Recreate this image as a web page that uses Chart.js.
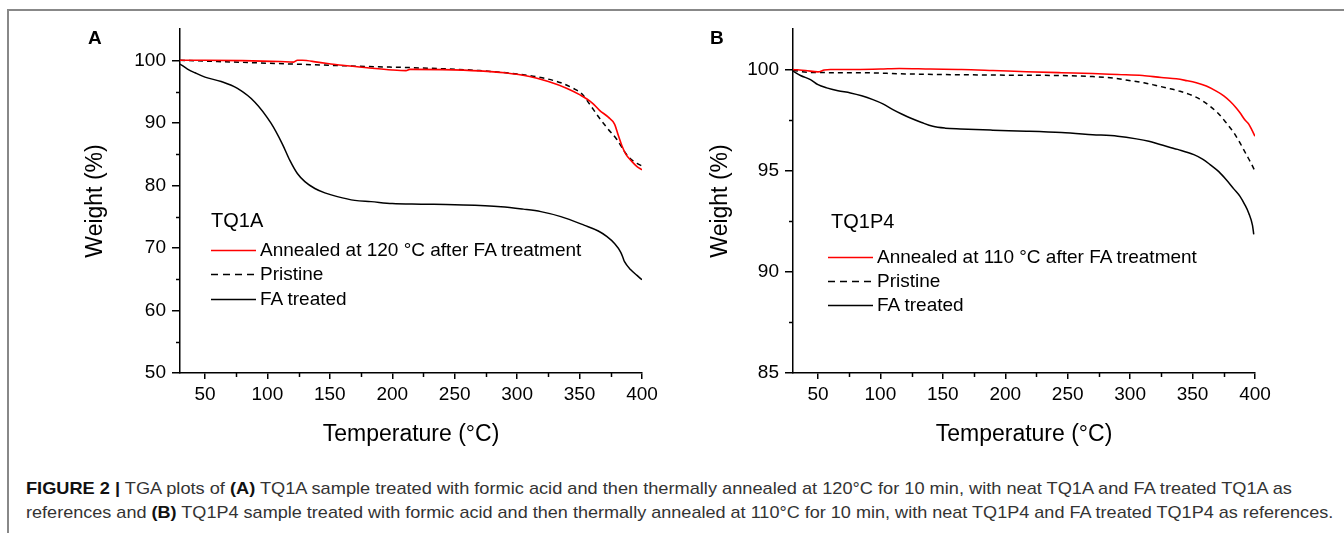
<!DOCTYPE html>
<html>
<head>
<meta charset="utf-8">
<script src="https://cdn.jsdelivr.net/npm/chart.js@4.4.1/dist/chart.umd.min.js"></script>
<style>
  html, body { margin: 0; padding: 0; background: #fff; }
  body { width: 1344px; height: 533px; position: relative; overflow: hidden;
         font-family: "Liberation Sans", Arial, sans-serif; color: #000; }
  .frame { position: absolute; left: 7px; top: 9px; width: 1400px; height: 600px;
           border-top: 2px solid #888; border-left: 2px solid #888; }
  canvas { position: absolute; top: 0; }
  #chartA { left: 0; }
  #chartB { left: 613px; }
  .letter { position: absolute; font-weight: bold; font-size: 19px; line-height: 22px; }
  .tag { position: absolute; font-size: 20px; line-height: 24px; white-space: nowrap; }
  .leg { position: absolute; height: 22px; line-height: 22px; font-size: 19px; white-space: nowrap; }
  .leg svg { position: absolute; left: 0; top: 10px; }
  .leg span { position: absolute; left: 49px; top: 0; }
  .cap { position: absolute; left: 26px; font-size: 17px; line-height: 20px; white-space: nowrap;
         color: #333; transform-origin: 0 50%; }
  .cap b { color: #111; }
</style>
</head>
<body>
<div class="frame"></div>
<canvas id="chartA" width="672" height="460"></canvas>
<canvas id="chartB" width="672" height="460"></canvas>

<div class="letter" style="left:88px; top:27px;">A</div>
<div class="letter" style="left:710px; top:27px;">B</div>

<div class="tag" style="left:211px; top:208px;">TQ1A</div>
<div class="leg" style="left:211px; top:239px;"><svg width="45" height="4"><line x1="0" y1="1.5" x2="45" y2="1.5" stroke="#f00" stroke-width="1.6"/></svg><span>Annealed at 120 °C after FA treatment</span></div>
<div class="leg" style="left:211px; top:263px;"><svg width="45" height="4"><line x1="0" y1="1.5" x2="45" y2="1.5" stroke="#000" stroke-width="1.5" stroke-dasharray="7 5"/></svg><span>Pristine</span></div>
<div class="leg" style="left:211px; top:288px;"><svg width="45" height="4"><line x1="0" y1="1.5" x2="45" y2="1.5" stroke="#000" stroke-width="1.6"/></svg><span>FA treated</span></div>

<div class="tag" style="left:831px; top:209px;">TQ1P4</div>
<div class="leg" style="left:828px; top:246px;"><svg width="45" height="4"><line x1="0" y1="1.5" x2="45" y2="1.5" stroke="#f00" stroke-width="1.6"/></svg><span>Annealed at 110 °C after FA treatment</span></div>
<div class="leg" style="left:828px; top:270px;"><svg width="45" height="4"><line x1="0" y1="1.5" x2="45" y2="1.5" stroke="#000" stroke-width="1.5" stroke-dasharray="7 5"/></svg><span>Pristine</span></div>
<div class="leg" style="left:828px; top:294px;"><svg width="45" height="4"><line x1="0" y1="1.5" x2="45" y2="1.5" stroke="#000" stroke-width="1.6"/></svg><span>FA treated</span></div>

<div class="cap" id="cap1" data-right="1292" style="top:479px;"><b>FIGURE 2 |</b> TGA plots of <b>(A)</b> TQ1A sample treated with formic acid and then thermally annealed at 120°C for 10 min, with neat TQ1A and FA treated TQ1A as</div>
<div class="cap" id="cap2" data-right="1333" style="top:503px;">references and <b>(B)</b> TQ1P4 sample treated with formic acid and then thermally annealed at 110°C for 10 min, with neat TQ1P4 and FA treated TQ1P4 as references.</div>

<script>
// ---- panel A: TQ1A ----
var tempA_annealed = [30, 50, 80, 110, 121, 124, 128, 140, 160, 180, 200, 211, 214, 240, 270, 290, 310, 325, 340, 350, 360, 366, 373, 378, 381, 384, 387, 392, 396, 400];
var weightA_annealed = [100.0, 100.0, 99.95, 99.8, 99.7, 100.0, 100.0, 99.7, 99.2, 98.8, 98.45, 98.35, 98.55, 98.5, 98.3, 98.0, 97.4, 96.6, 95.5, 94.5, 93.2, 92.0, 90.9, 89.8, 88.0, 86.3, 85.0, 83.8, 83.0, 82.5];
var tempA_pristine = [30, 60, 90, 120, 150, 180, 210, 240, 270, 300, 320, 335, 345, 352, 358, 365, 372, 380, 386, 391, 396, 400];
var weightA_pristine = [100.0, 99.8, 99.6, 99.4, 99.2, 99.0, 98.85, 98.65, 98.35, 97.8, 97.2, 96.4, 95.5, 94.6, 93.0, 91.0, 89.2, 87.3, 85.4, 84.2, 83.5, 83.1];
var tempA_fa = [30, 36, 42, 50, 63, 76, 90, 103, 112, 118, 124, 130, 138, 146, 156, 170, 183, 200, 223, 250, 287, 305, 319, 335, 354, 365, 372, 378, 383, 385, 386, 391, 396, 400];
var weightA_fa = [99.4, 98.6, 98.0, 97.3, 96.6, 95.5, 93.3, 89.9, 86.6, 84.0, 81.9, 80.6, 79.5, 78.8, 78.2, 77.6, 77.4, 77.1, 77.0, 76.9, 76.6, 76.2, 75.8, 75.0, 73.6, 72.7, 71.8, 70.7, 69.3, 68.3, 67.8, 66.5, 65.6, 64.9];

// ---- panel B: TQ1P4 ----
var tempB_annealed = [30, 40, 50, 55, 60, 80, 100, 115, 140, 165, 190, 217, 245, 270, 290, 310, 325, 337, 345, 353, 361, 369, 375, 380, 385, 388, 392, 395, 398, 400];
var weightB_annealed = [100.0, 99.95, 99.88, 99.97, 100.0, 100.0, 100.02, 100.05, 100.02, 100.0, 99.95, 99.89, 99.84, 99.8, 99.75, 99.7, 99.6, 99.54, 99.45, 99.34, 99.18, 98.93, 98.7, 98.43, 98.1, 97.86, 97.5, 97.3, 96.95, 96.7];
var tempB_pristine = [30, 45, 84, 120, 150, 200, 244, 270, 284, 298, 311, 320, 329, 340, 351, 358, 364, 371, 377, 383, 388, 393, 397, 400];
var weightB_pristine = [99.95, 99.85, 99.84, 99.78, 99.75, 99.72, 99.7, 99.65, 99.59, 99.47, 99.34, 99.22, 99.09, 98.92, 98.68, 98.45, 98.18, 97.8, 97.36, 96.88, 96.37, 95.8, 95.35, 94.97];
var tempB_fa = [30, 36, 44, 50, 57, 66, 76, 85, 94, 102, 110, 117, 124, 133, 142, 152, 164, 190, 217, 245, 270, 290, 305, 315, 324, 338, 351, 358, 364, 371, 377, 383, 388, 392, 395, 398, 399];
var weightB_fa = [99.92, 99.7, 99.5, 99.25, 99.09, 98.95, 98.84, 98.7, 98.51, 98.3, 98.02, 97.8, 97.6, 97.38, 97.19, 97.1, 97.06, 97.0, 96.95, 96.88, 96.78, 96.7, 96.57, 96.45, 96.29, 96.05, 95.79, 95.57, 95.3, 94.95, 94.55, 94.1, 93.73, 93.3, 92.9, 92.3, 91.85];

// ticks
var xTicks = [50, 100, 150, 200, 250, 300, 350, 400];
var xMinor = [75, 125, 175, 225, 275, 325, 375];
var yTicksA = [50, 60, 70, 80, 90, 100];
var yMinorA = [55, 65, 75, 85, 95];
var yTicksB = [85, 90, 95, 100];
var yMinorB = [87.5, 92.5, 97.5];

Chart.defaults.font.family = '"Liberation Sans", Arial, sans-serif';
Chart.defaults.color = '#000';

function pts(t, w) {
    var out = [];
    for (var i = 0; i < t.length; i++) out.push({x: t[i], y: w[i]});
    return out;
}

// short outward minor ticks
var minorTicks = {
    id: 'minorTicks',
    afterDraw: function(chart, args, opts) {
        var ctx = chart.ctx, x = chart.scales.x, y = chart.scales.y;
        ctx.save();
        ctx.strokeStyle = '#000';
        ctx.lineWidth = 1.5;
        opts.x.forEach(function(v) {
            var px = Math.round(x.getPixelForValue(v)) + 0.5;
            ctx.beginPath(); ctx.moveTo(px, x.top); ctx.lineTo(px, x.top + 4); ctx.stroke();
        });
        opts.y.forEach(function(v) {
            var py = Math.round(y.getPixelForValue(v)) + 0.5;
            ctx.beginPath(); ctx.moveTo(y.right, py); ctx.lineTo(y.right - 4, py); ctx.stroke();
        });
        ctx.restore();
    }
};

function makePanel(id, series, yMin, yMax, yTicks, yMinor, yTitlePad) {
    var ds = [
        {label: 'Annealed', data: pts(series[0][0], series[0][1]), borderColor: '#ff0000', borderWidth: 1.6},
        {label: 'Pristine', data: pts(series[1][0], series[1][1]), borderColor: '#000', borderWidth: 1.5, borderDash: [5, 4]},
        {label: 'FA treated', data: pts(series[2][0], series[2][1]), borderColor: '#000', borderWidth: 1.5}
    ];
    ds.forEach(function(d) {
        d.pointRadius = 0;
        d.fill = false;
        d.tension = 0.3;
        d.cubicInterpolationMode = 'monotone';
    });
    return new Chart(document.getElementById(id), {
        type: 'line',
        data: {datasets: ds},
        plugins: [minorTicks],
        options: {
            responsive: false,
            animation: false,
            devicePixelRatio: 1,
            layout: {padding: {top: 29, right: 30, left: 0, bottom: 0}},
            plugins: {
                legend: {display: false},
                tooltip: {enabled: false},
                minorTicks: {x: xMinor, y: yMinor}
            },
            scales: {
                x: {
                    type: 'linear', min: 30, max: 400,
                    afterBuildTicks: function(s) { s.ticks = xTicks.map(function(v) { return {value: v}; }); },
                    afterFit: function(s) { s.height = 87; },
                    grid: {drawOnChartArea: false, drawTicks: true, tickLength: 6, color: '#000', lineWidth: 1.5},
                    border: {display: true, color: '#000', width: 1.5},
                    ticks: {font: {size: 19}, padding: 4, maxRotation: 0, color: '#000'},
                    title: {display: true, text: 'Temperature (°C)', font: {size: 23}, padding: {top: 0, bottom: 12}, color: '#000'}
                },
                y: {
                    type: 'linear', min: yMin, max: yMax,
                    afterBuildTicks: function(s) { s.ticks = yTicks.map(function(v) { return {value: v}; }); },
                    afterFit: function(s) { s.width = 180; },
                    grid: {drawOnChartArea: false, drawTicks: true, tickLength: 8, color: '#000', lineWidth: 1.5},
                    border: {display: true, color: '#000', width: 1.5},
                    ticks: {font: {size: 19}, padding: 6, color: '#000'},
                    title: {display: true, text: 'Weight (%)', font: {size: 23}, padding: {top: yTitlePad, bottom: 0}, color: '#000'}
                }
            }
        }
    });
}

makePanel('chartA', [[tempA_annealed, weightA_annealed], [tempA_pristine, weightA_pristine], [tempA_fa, weightA_fa]], 50, 105, yTicksA, yMinorA, 82);
makePanel('chartB', [[tempB_annealed, weightB_annealed], [tempB_pristine, weightB_pristine], [tempB_fa, weightB_fa]], 85, 102, yTicksB, yMinorB, 94);

// stretch caption lines to their printed width
['cap1', 'cap2'].forEach(function(id) {
    var el = document.getElementById(id);
    var target = +el.dataset.right - 26;
    el.style.transform = 'scaleX(' + (target / el.scrollWidth) + ')';
});
</script>
</body>
</html>
